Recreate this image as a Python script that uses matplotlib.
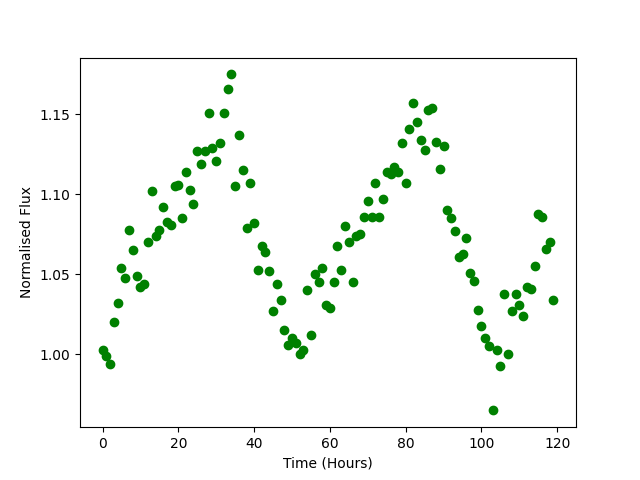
import matplotlib
matplotlib.use("Agg")
import matplotlib.pyplot as plt
import numpy as np

time_hours = list(range(120))
flux = [
    1.003, 0.999, 0.994, 1.020, 1.032, 1.054, 1.048, 1.078, 1.065, 1.049,
    1.042, 1.044, 1.070, 1.102, 1.074, 1.078, 1.092, 1.083, 1.081, 1.105,
    1.106, 1.085, 1.114, 1.103, 1.094, 1.127, 1.119, 1.127, 1.151, 1.129,
    1.121, 1.132, 1.151, 1.166, 1.175, 1.105, 1.137, 1.115, 1.079, 1.107,
    1.082, 1.053, 1.068, 1.064, 1.052, 1.027, 1.044, 1.034, 1.015, 1.006,
    1.010, 1.007, 1.000, 1.003, 1.040, 1.012, 1.050, 1.045, 1.054, 1.031,
    1.029, 1.045, 1.068, 1.053, 1.080, 1.070, 1.045, 1.074, 1.075, 1.086,
    1.096, 1.086, 1.107, 1.086, 1.097, 1.114, 1.113, 1.117, 1.114, 1.132,
    1.107, 1.141, 1.157, 1.145, 1.134, 1.128, 1.153, 1.154, 1.133, 1.116,
    1.130, 1.090, 1.085, 1.077, 1.061, 1.063, 1.073, 1.051, 1.046, 1.028,
    1.018, 1.010, 1.005, 0.965, 1.003, 0.993, 1.038, 1.000, 1.027, 1.038,
    1.031, 1.024, 1.042, 1.041, 1.055, 1.088, 1.086, 1.066, 1.070, 1.034,
]

fig, ax = plt.subplots(figsize=(6.4, 4.8), dpi=100)
ax.plot(time_hours, flux, 'o', color='green')
ax.set_xlabel('Time (Hours)')
ax.set_ylabel('Normalised Flux')
fig.savefig('out.png')
